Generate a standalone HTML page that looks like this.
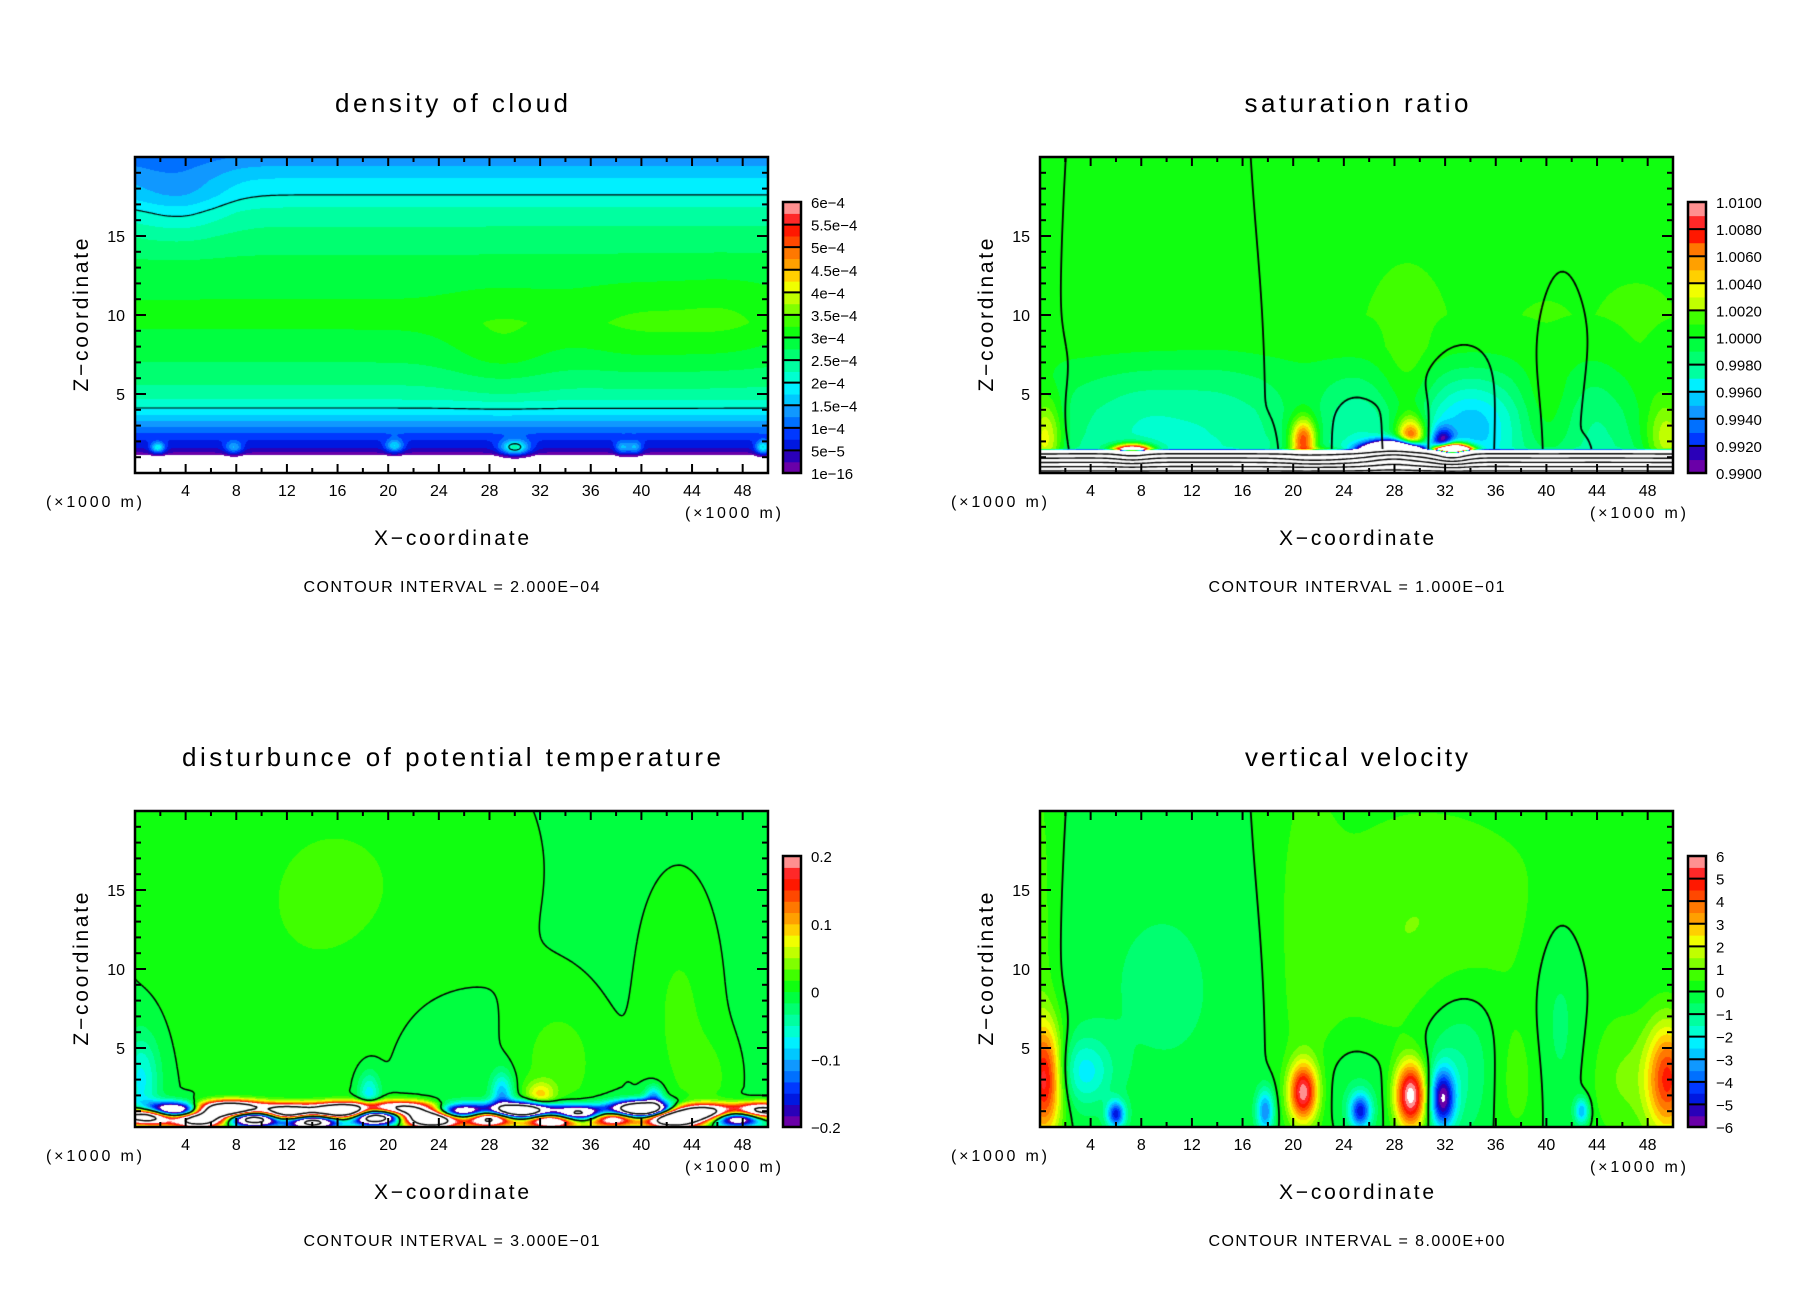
<!DOCTYPE html>
<html><head><meta charset="utf-8">
<style>
html,body{margin:0;padding:0;background:#fff;}
#root{position:relative;width:1808px;height:1308px;overflow:hidden;background:#fff;font-family:"Liberation Sans",sans-serif;}
canvas{position:absolute;}
svg{position:absolute;left:0;top:0;}
</style></head>
<body>
<div id="root">
<canvas id="c1" width="633" height="316" style="left:135px;top:157px"></canvas>
<canvas id="c2" width="633" height="316" style="left:1040px;top:157px"></canvas>
<canvas id="c3" width="633" height="316" style="left:135px;top:811px"></canvas>
<canvas id="c4" width="633" height="316" style="left:1040px;top:811px"></canvas>
<svg id="ov" width="1808" height="1308"></svg>
</div>
<script>
// ---------- shared axis data ----------
const xTickLabels = [4,8,12,16,20,24,28,32,36,40,44,48];
const zTickLabels = [5,10,15];
const palette = ['#6a00a8','#2a00b8','#0018e0','#0038ff','#0070ff','#1098ff','#00c8ff','#00f0ff','#00ffd0','#00ffa0','#00ff70','#00ff40','#10ff10','#40ff00','#80ff00','#c0ff00','#f0ff00','#ffd000','#ffa000','#ff7800','#ff4800','#ff1800','#ff2828','#ff9090'];

// ---------- panel 1 : density of cloud ----------
const p1ProfileZ = [0,1.1,1.25,1.6,2.2,3,3.6,4.2,5,7,9.5,11,13,15,16.5,17.6,18.5,19.3,20];
const p1ProfileV = [-1e-4,-1e-5,2e-5,5e-5,8e-5,1.3e-4,1.7e-4,2.05e-4,2.4e-4,2.75e-4,3.05e-4,3.0e-4,2.85e-4,2.6e-4,2.35e-4,2.0e-4,1.8e-4,1.55e-4,1.3e-4];
const p1BlobX  = [4,0,29,40,47,1.8,7.8,20.5,30,38.5,39.5,49.6];
const p1BlobZ  = [17.5,18,8,9,9.5,1.6,1.6,1.7,1.6,1.6,1.6,1.6];
const p1BlobSX = [2.5,3,3,4,3,0.4,0.5,0.5,0.8,0.4,0.4,0.4];
const p1BlobSZ = [1.8,2,2,2,2,0.25,0.3,0.3,0.35,0.3,0.3,0.3];
const p1BlobA  = [-4e-5,-2.5e-5,3e-5,2.5e-5,2e-5,1.5e-4,1e-4,1.2e-4,1.8e-4,1e-4,1e-4,1.5e-4];
const p1Levels = [2e-4,4e-4];
const p1BarLabels = ['6e\u22124','5.5e\u22124','5e\u22124','4.5e\u22124','4e\u22124','3.5e\u22124','3e\u22124','2.5e\u22124','2e\u22124','1.5e\u22124','1e\u22124','5e\u22125','1e\u221216'];

// ---------- panel 2 : saturation ratio ----------
const p2ProfileZ = [0,1.35,1.5,1.7,2.5,4,6,8,10,20];
const p2ProfileV = [0.45,0.95,0.9982,0.9985,0.9987,0.9989,0.9995,1.0004,1.0008,1.0008];
const p2BlobX  = [0.4,49.6,20.8,29.3,31.8,34,8,14,25,45,29,40,21,47,7.3,28,32.5,22];
const p2BlobZ  = [2,2,2,2,1.8,3,3,3,3,3,5,4,3,4,1,1,1,0.8];
const p2BlobSX = [1,1.2,0.7,0.8,0.6,2.5,3,3,2.5,2,1.5,1.5,1.5,2,1,1.5,1,2];
const p2BlobSZ = [2,2,1,1,0.7,2,2.5,3,2,2.5,3,2.5,2,3,0.4,0.5,0.4,0.3];
const p2BlobA  = [0.005,0.004,0.008,0.009,-0.008,-0.0035,-0.0012,-0.001,-0.0012,-0.001,0.0015,0.0015,0.001,0.0012,0.05,-0.08,0.1,0.05];
const p2Levels = [0.5,0.6,0.7,0.8,0.9];
const p2BarLabels = ['1.0100','1.0080','1.0060','1.0040','1.0020','1.0000','0.9980','0.9960','0.9940','0.9920','0.9900'];

// ---------- panel 3 : potential temperature disturbance ----------
const p3ProfileZ = [0,1.5,1.6,2.5,20];
const p3ProfileV = [0,0,-0.01,-0.005,-0.004];
const p3BlobX  = [12,20,24,33.5,32,43,45.5,18.5,29,41,0.5,
                  1,3,5,7.5,9.5,12,14,16.5,19,21,23.5,26,28,30.5,33,35,37.5,40,42.5,45,47.5,49.5];
const p3BlobZ  = [12,16,5,4,2,7,3,2,2,1.9,3,
                  0.7,1.0,0.5,1.1,0.6,0.9,0.4,1.0,0.7,1.1,0.5,0.9,0.6,1.0,0.5,0.8,0.6,1.1,0.5,0.9,0.6,1.0];
const p3BlobSX = [8,8,3,2.5,0.8,2,1.5,0.6,0.6,0.5,1,
                  1.5,1.8,1.4,1.9,1.5,1.6,1.4,1.8,1.5,1.9,1.5,1.8,1.4,1.6,1.5,1.8,1.5,1.6,1.4,1.8,1.5,1.5];
const p3BlobSZ = [10,6,3,3,0.6,5,2,1,1,0.5,2,
                  0.35,0.35,0.35,0.35,0.35,0.35,0.35,0.35,0.35,0.35,0.35,0.35,0.35,0.35,0.35,0.35,0.35,0.35,0.35,0.35,0.35,0.35];
const p3BlobA  = [0.015,0.012,-0.008,0.03,0.08,0.025,0.02,-0.08,-0.1,-0.1,-0.07,
                  0.55,-0.5,0.45,0.6,-0.55,0.5,-0.45,0.6,-0.6,0.4,0.55,-0.4,0.5,-0.55,0.45,-0.5,0.4,-0.6,0.5,0.45,-0.4,0.4];
const p3Levels = [-0.3,0,0.3];
const p3BarLabels = ['0.2','','','','','','0.1','','','','','','0','','','','','','\u22120.1','','','','','','\u22120.2'];

// ---------- panel 4 : vertical velocity ----------
const p4ProfileZ = [0,20];
const p4ProfileV = [0,0];
const p4BlobX  = [10,21,36,25,33,41,29.3,37.5,46,0.4,0,49.6,20.8,31.8,6,17.8,25.3,42.8,3.5,29];
const p4BlobZ  = [9,10,15,2.5,4,7,2,3,3,3,10,3,2.2,1.8,0.8,1,1,1,3.5,10];
const p4BlobSX = [6,1.8,10,2.5,2.5,1.5,0.9,1.5,2,1,1,1.2,0.8,0.7,0.5,0.5,0.6,0.4,1.5,6];
const p4BlobSZ = [7,12,5,2.5,3.5,5,1.5,3,3,2.5,12,2.5,1.3,1.3,0.6,1,0.8,0.6,1.5,7];
const p4BlobA  = [-0.6,0.6,0.4,-0.8,-1.5,-0.8,6.5,0.8,1,4.8,0.8,4.5,5.5,-5.5,-4.5,-3.5,-4.5,-3,-2,0.8];
const p4Levels = [0];
const p4BarLabels = ['6','5','4','3','2','1','0','\u22121','\u22122','\u22123','\u22124','\u22125','\u22126'];

// ---------- helpers ----------
const W=633,H=316,XMAX=50,ZMAX=20;
function xScale(x){return x/XMAX*W;}
function zScale(z){return H - z/ZMAX*H;}
function profileAt(pz,pv,z){
  if(z<=pz[0])return pv[0];
  for(let i=1;i<pz.length;i++){ if(z<=pz[i]){const t=(z-pz[i-1])/(pz[i]-pz[i-1]);return pv[i-1]+t*(pv[i]-pv[i-1]);} }
  return pv[pv.length-1];
}
function makeField(pz,pv,bx,bz,bsx,bsz,ba){
  return function(x,z){
    let v=profileAt(pz,pv,z);
    for(let i=0;i<bx.length;i++){
      const dx=(x-bx[i])/bsx[i], dz=(z-bz[i])/bsz[i], e=dx*dx+dz*dz;
      if(e<30) v+=ba[i]*Math.exp(-0.5*e);
    }
    return v;
  };
}
function hexRgb(h){return [parseInt(h.slice(1,3),16),parseInt(h.slice(3,5),16),parseInt(h.slice(5,7),16)];}
const palRgb = palette.map(hexRgb);
function paint(cid,f,vmin,vmax){
  const ctx=document.getElementById(cid).getContext('2d');
  const img=ctx.createImageData(W,H);
  for(let py=0;py<H;py++){
    const z=(H-py-0.5)/H*ZMAX;
    for(let px=0;px<W;px++){
      const x=(px+0.5)/W*XMAX;
      const t=(f(x,z)-vmin)/(vmax-vmin);
      let c=[255,255,255];
      if(t>=0&&t<=1){c=palRgb[Math.min(23,Math.floor(t*24))];}
      const k=(py*W+px)*4;
      img.data[k]=c[0];img.data[k+1]=c[1];img.data[k+2]=c[2];img.data[k+3]=255;
    }
  }
  ctx.putImageData(img,0,0);
  return ctx;
}
function contour(ctx,f,levels,zmin,zmax,lw){
  const s=2,nx=Math.ceil(W/s)+1,ny=Math.ceil(H/s)+1;
  const g=new Float32Array(nx*ny);
  for(let j=0;j<ny;j++)for(let i=0;i<nx;i++){g[j*nx+i]=f(i*s/W*XMAX,(H-j*s)/H*ZMAX);}
  ctx.strokeStyle='#000';ctx.lineWidth=lw;ctx.lineJoin='round';
  ctx.beginPath();
  for(const L of levels){
    for(let j=0;j<ny-1;j++){
      const zc=(H-(j+0.5)*s)/H*ZMAX;
      if(zc<zmin||zc>zmax)continue;
      for(let i=0;i<nx-1;i++){
        const a=g[j*nx+i]-L,b=g[j*nx+i+1]-L,c=g[(j+1)*nx+i+1]-L,d=g[(j+1)*nx+i]-L;
        const x0=i*s,y0=j*s,pts=[];
        if((a<0)!==(b<0))pts.push([x0+s*a/(a-b),y0]);
        if((b<0)!==(c<0))pts.push([x0+s,y0+s*b/(b-c)]);
        if((c<0)!==(d<0))pts.push([x0+s*d/(d-c),y0+s]);
        if((d<0)!==(a<0))pts.push([x0,y0+s*a/(a-d)]);
        for(let k=0;k+1<pts.length;k+=2){ctx.moveTo(pts[k][0],pts[k][1]);ctx.lineTo(pts[k+1][0],pts[k+1][1]);}
      }
    }
  }
  ctx.stroke();
}

// ---------- render fields ----------
const f1=makeField(p1ProfileZ,p1ProfileV,p1BlobX,p1BlobZ,p1BlobSX,p1BlobSZ,p1BlobA);
const f2=makeField(p2ProfileZ,p2ProfileV,p2BlobX,p2BlobZ,p2BlobSX,p2BlobSZ,p2BlobA);
const f3=makeField(p3ProfileZ,p3ProfileV,p3BlobX,p3BlobZ,p3BlobSX,p3BlobSZ,p3BlobA);
const f4=makeField(p4ProfileZ,p4ProfileV,p4BlobX,p4BlobZ,p4BlobSX,p4BlobSZ,p4BlobA);
let cx=paint('c1',f1,0,6e-4); contour(cx,f1,p1Levels,1.3,20,1.2);
cx=paint('c2',f2,0.99,1.01); contour(cx,f2,p2Levels,0,1.6,1.4); contour(cx,f4,p4Levels,1.5,20,1.8);
cx=paint('c3',f3,-0.2,0.2); contour(cx,f3,p3Levels,0,20,1.5);
cx=paint('c4',f4,-6,6); contour(cx,f4,p4Levels,0,20,1.8);

// ---------- axes overlay ----------
const NS='http://www.w3.org/2000/svg';
const ov=document.getElementById('ov');
function el(tag,attrs,parent){const e=document.createElementNS(NS,tag);for(const k in attrs)e.setAttribute(k,attrs[k]);(parent||ov).appendChild(e);return e;}
function txt(str,attrs,parent){const e=el('text',Object.assign({'font-family':'Liberation Sans, sans-serif',fill:'#000'},attrs),parent);e.textContent=str;return e;}

const panels=[
  {fx:135,fy:157,title:'density  of  cloud',tw:233,ci:'CONTOUR INTERVAL  =  2.000E\u221204',labels:p1BarLabels,bands:12,sep:true},
  {fx:1040,fy:157,title:'saturation  ratio',tw:224,ci:'CONTOUR INTERVAL  =  1.000E\u221201',labels:p2BarLabels,bands:10,sep:true},
  {fx:135,fy:811,title:'disturbunce  of  potential  temperature',tw:539,ci:'CONTOUR INTERVAL  =  3.000E\u221201',labels:p3BarLabels,bands:12,sep:false},
  {fx:1040,fy:811,title:'vertical  velocity',tw:223,ci:'CONTOUR INTERVAL  =  8.000E+00',labels:p4BarLabels,bands:12,sep:true}
];
panels.forEach((p,pi)=>{
  const g=el('g',{});
  
  
  const {fx,fy}=p;
  const t=txt(p.title,{x:fx+316.5,y:fy-45,'font-size':26,'text-anchor':'middle',textLength:p.tw,lengthAdjust:'spacing'},g);
  
  
  const tg=el('g',{stroke:'#000','stroke-width':2},g);
  
  
  for(let x=2;x<50;x+=2){
    const L=(x%4===0)?9:5, px=fx+xScale(x);
    el('line',{x1:px,y1:fy+H,x2:px,y2:fy+H-L},tg);
    el('line',{x1:px,y1:fy,x2:px,y2:fy+L},tg);
  }
  for(let z=1;z<20;z++){
    const L=(z%5===0)?11:6, py=fy+zScale(z);
    el('line',{x1:fx,y1:py,x2:fx+L,y2:py},tg);
    el('line',{x1:fx+W,y1:py,x2:fx+W-L,y2:py},tg);
  }
  const fr=el('rect',{x:fx,y:fy,width:W,height:H,fill:'none',stroke:'#000','stroke-width':2.5},g);
  
  
  xTickLabels.forEach(v=>{
    const l=txt(String(v),{x:fx+xScale(v),y:fy+H+23,'font-size':16,'text-anchor':'middle'},g);
    
    
  });
  zTickLabels.forEach(v=>{
    const l=txt(String(v),{x:fx-10,y:fy+zScale(v)+6,'font-size':16,'text-anchor':'end'},g);
    
    
  });
  let u=txt('(\u00d71000 m)',{x:fx-89,y:fy+H+34,'font-size':16,textLength:96,lengthAdjust:'spacing'},g);
  
  
  u=txt('(\u00d71000 m)',{x:fx+550,y:fy+H+45,'font-size':16,textLength:96,lengthAdjust:'spacing'},g);
  
  
  const xt=txt('X\u2212coordinate',{x:fx+316.5,y:fy+H+72,'font-size':21,'text-anchor':'middle',textLength:155,lengthAdjust:'spacing'},g);
  
  
  const yt=txt('Z\u2212coordinate',{x:0,y:0,'font-size':21,'text-anchor':'middle',textLength:153,lengthAdjust:'spacing',transform:`translate(${fx-47},${fy+158}) rotate(-90)`},g);
  
  
  const ci=txt(p.ci,{x:fx+316.5,y:fy+H+119,'font-size':16,'text-anchor':'middle',textLength:296,lengthAdjust:'spacing'},g);
  
  
  const bx=fx+648,bw=18,btop=fy+45,bbot=fy+H,bh=bbot-btop;
  const cb=el('g',{},g);
  
  
  const nsub=p.bands*2;
  for(let i=0;i<nsub;i++){
    const idx=Math.min(23,Math.floor((i+0.5)/nsub*24));
    const y=bbot-(i+1)/nsub*bh;
    el('rect',{x:bx,y:y,width:bw,height:bh/nsub+0.6,fill:palette[idx]},cb);
  }
  if(p.sep){for(let i=1;i<p.bands;i++){const y=bbot-i/p.bands*bh;el('line',{x1:bx,y1:y,x2:bx+bw,y2:y,stroke:'#000','stroke-width':2},cb);}}
  el('rect',{x:bx,y:btop,width:bw,height:bh,fill:'none',stroke:'#000','stroke-width':2.5},cb);
  const n=p.labels.length;
  p.labels.forEach((s,i)=>{
    if(!s)return;
    const y=btop+i/(n-1)*bh;
    const l=txt(s,{x:bx+28,y:y+6,'font-size':15},cb);
    
    
  });
});
</script>
</body></html>
